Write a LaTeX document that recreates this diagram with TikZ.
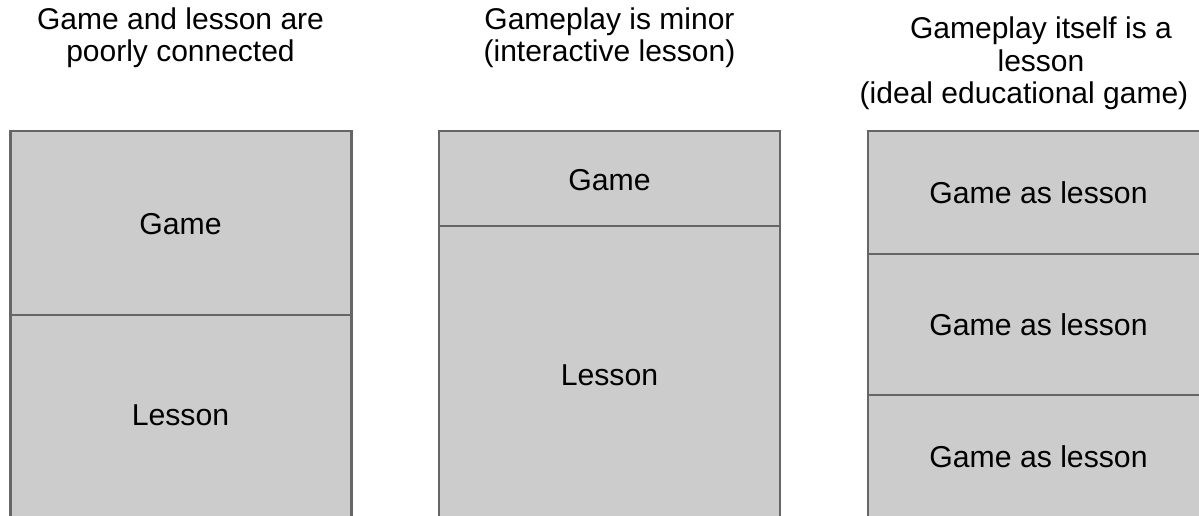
\documentclass[tikz,border=0pt]{standalone}
\usepackage{fontspec}
\setmainfont{Liberation Sans}
\definecolor{boxfill}{HTML}{CCCCCC}
\definecolor{boxline}{HTML}{666666}
\begin{document}
\begin{tikzpicture}[x=1pt,y=-1pt,
  panel/.style={draw=boxline, fill=boxfill, line width=2.5pt, minimum width=341pt,
    anchor=north west, inner sep=0pt, outer sep=0pt},
  title/.style={align=center, font=\fontsize{30}{32.5}\selectfont, inner sep=0pt, anchor=base},
  lbl/.style={font=\fontsize{30.2}{32}\selectfont, inner sep=0pt, anchor=base}]
\useasboundingbox (0,0) rectangle (1199,516);
\clip (0,0) rectangle (1199,516);
% titles (base = last line)
\node[title] (t1) at (180.5,62) {Game and lesson are\\poorly connected};
\node[title] (t2) at (609.5,62) {Gameplay is minor\\(interactive lesson)};
\node[title] (t3) at (1041,104) {Gameplay itself is a\\lesson\\(ideal educational game)\hspace*{34pt}};
% left panel
\node[panel, minimum height=184pt] (l1) at (10.5,131) {};
\node[panel, minimum height=215pt] (l2) at (10.5,315) {};
% middle panel
\node[panel, minimum height=95pt] (m1) at (439,131) {};
\node[panel, minimum height=304pt] (m2) at (439,226) {};
% right panel
\node[panel, minimum height=123pt] (r1) at (868,131) {};
\node[panel, minimum height=141pt] (r2) at (868,254) {};
\node[panel, minimum height=135pt] (r3) at (868,395) {};
% labels
\node[lbl] (lg) at (180.5,234) {Game};
\node[lbl] (ll) at (180.5,425.5) {Lesson};
\node[lbl] (mg) at (609.5,190.5) {Game};
\node[lbl] (ml) at (609.5,385.5) {Lesson};
\node[lbl] (rg1) at (1038.5,203) {Game as lesson};
\node[lbl] (rg2) at (1038.5,335) {Game as lesson};
\node[lbl] (rg3) at (1038.5,467) {Game as lesson};
\end{tikzpicture}
\end{document}
